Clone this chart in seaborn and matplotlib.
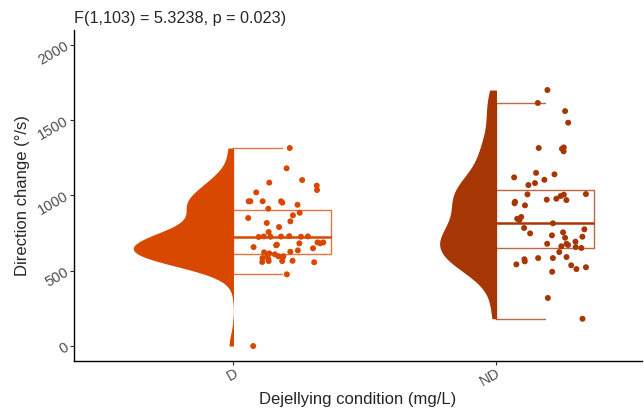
import numpy as np
import pandas as pd
import seaborn as sns
import matplotlib.pyplot as plt
from matplotlib.patches import Rectangle

# Valores (°/s)
conditions = ["D", "ND"]
colours = {"D": "#d94801", "ND": "#a63603"}

d_values = [1315, 1102, 1085, 1180, 1065, 1036, 1020, 961, 961, 961, 961, 952,
            938, 912, 885, 868, 850, 828, 817, 790, 757, 726, 727, 724, 730,
            728, 726, 728, 673, 682, 688, 682, 688, 649, 669, 657, 635, 626,
            609, 622, 596, 596, 600, 615, 586, 556, 566, 564, 578, 564, 584,
            558, 476, 0]
nd_values = [1700, 1614, 1560, 1483, 1319, 1293, 1315, 1310, 1150, 1140, 1082,
             1104, 1120, 1069, 1009, 1007, 1005, 996, 969, 972, 978, 948, 958,
             934, 857, 845, 837, 815, 784, 775, 755, 735, 719, 748, 726, 693,
             679, 679, 657, 671, 662, 651, 624, 584, 584, 562, 576, 591, 536,
             523, 511, 493, 542, 319, 181]

title = "F(1,103) = 5.3238, p = 0.023)"
y_ticks = [0, 500, 1000, 1500, 2000]

df = pd.DataFrame({
    "condition": ["D"] * len(d_values) + ["ND"] * len(nd_values),
    "speed": d_values + nd_values,
})
# posición numérica de cada grupo (0, 1)
df["pos"] = df["condition"].map({c: i for i, c in enumerate(conditions)})

box_w = 0.373
df["pos_box"] = df["pos"] + box_w / 2
df["pos_pts"] = df["pos"] + 0.2

sns.set_theme(style="ticks")
plt.rcParams['font.family'] = ['Liberation Sans', 'DejaVu Sans']

fig = plt.figure(figsize=(6.44, 4.08), dpi=100)
ax = fig.add_axes([0.115, 0.115, 0.882, 0.812])

# Violines completos, luego se recorta la mitad derecha
n_before = len(ax.collections)
sns.violinplot(data=df, x="pos", y="speed", hue="condition", palette=colours,
               native_scale=True, orient="x", inner=None, cut=0, bw_adjust=0.8,
               density_norm="area", common_norm=True, width=0.76,
               saturation=1, linewidth=0, legend=False, ax=ax)
for coll in ax.collections[n_before:]:
    verts = np.concatenate([p.vertices for p in coll.get_paths()])
    centre = np.round(verts[:, 0].mean())
    clip = Rectangle((centre - 1, -1e5), 1, 2e5, transform=ax.transData)
    coll.set_clip_path(clip)

# Caja a la derecha del violín
sns.boxplot(data=df, x="pos_box", y="speed", hue="condition", palette=colours,
            native_scale=True, orient="x", width=box_w, fill=False,
            saturation=1, showfliers=False, linewidth=1.0, legend=False, ax=ax,
            boxprops=dict(alpha=0.75), whiskerprops=dict(alpha=0.75),
            capprops=dict(alpha=0.75), medianprops=dict(linewidth=1.8),
            zorder=2.5)
for art in ax.containers:
    for i, box in enumerate(art.boxes):
        xs = box.get_xdata()
        left, right = min(xs), max(xs)
        for w in art.whiskers[2 * i:2 * i + 2]:
            w.set_xdata([left, left])
        for c in art.caps[2 * i:2 * i + 2]:
            c.set_xdata([left, (left + right) / 2])

# Puntos con jitter
np.random.seed(3)
sns.stripplot(data=df, x="pos_pts", y="speed", hue="condition",
              palette=colours, native_scale=True, orient="x", jitter=0.15,
              size=4.3, linewidth=0, legend=False, ax=ax, zorder=3)

ax.set_xlim(-0.605, 1.555)
ax.set_ylim(-100, 2100)
ax.set_xticks(range(len(conditions)), conditions)
ax.set_yticks(y_ticks)
ax.set_title(title, loc="left", fontsize=11.7, pad=5)
ax.set_xlabel("Dejellying condition (mg/L)", fontsize=12, labelpad=2)
ax.set_ylabel("Direction change (°/s)", fontsize=12, labelpad=4)

for side in ["top", "right"]:
    ax.spines[side].set_visible(False)
for side in ["left", "bottom"]:
    ax.spines[side].set_linewidth(1.0)
    ax.spines[side].set_color("black")

ax.tick_params(length=2.7, width=0.8, color="#333333", labelcolor="#4d4d4d",
               labelsize=10.5, pad=2)
ax.tick_params(axis="x", pad=1)
plt.setp(ax.get_yticklabels(), rotation=30, ha="right", va="center",
         rotation_mode="anchor")
plt.setp(ax.get_xticklabels(), rotation=30, ha="right", va="top",
         rotation_mode="anchor")

fig.savefig("out.png", dpi=100)
